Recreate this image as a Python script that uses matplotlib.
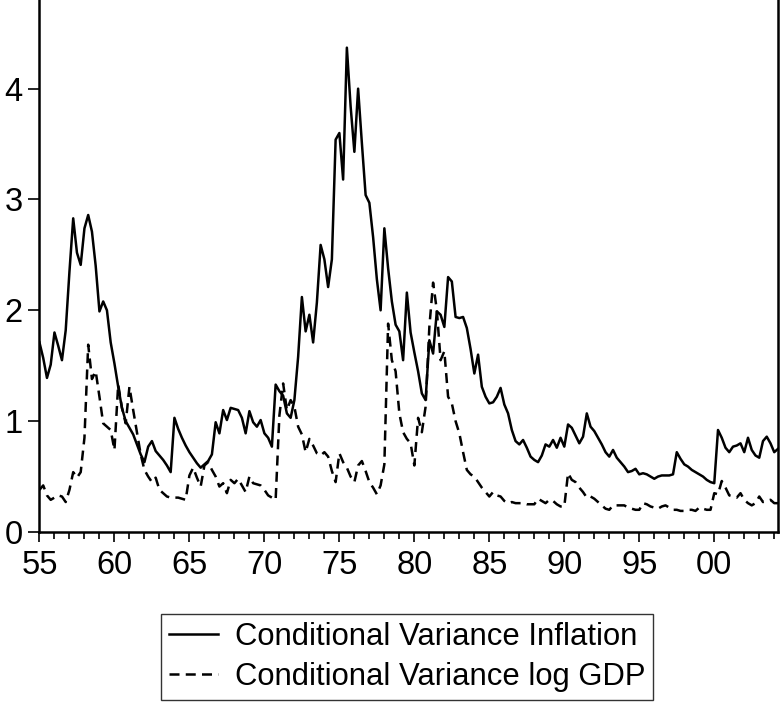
import matplotlib
matplotlib.use("Agg")
import matplotlib.pyplot as plt
import numpy as np

plt.rcParams['font.family'] = ['Liberation Sans', 'DejaVu Sans']

# quarterly, 1955Q1 .. 2004Q2
start_year = 1955
infl_var = [
    1.71, 1.57, 1.39, 1.51,  1.80, 1.68, 1.55, 1.82,   # 55-56
    2.35, 2.83, 2.52, 2.41,  2.74, 2.86, 2.71, 2.40,   # 57-58
    1.99, 2.08, 2.00, 1.71,  1.52, 1.31, 1.12, 1.00,   # 59-60
    0.94, 0.88, 0.79, 0.70,  0.63, 0.77, 0.82, 0.73,   # 61-62
    0.69, 0.65, 0.60, 0.54,  1.03, 0.93, 0.85, 0.78,   # 63-64
    0.72, 0.67, 0.62, 0.58,  0.61, 0.64, 0.70, 0.99,   # 65-66
    0.89, 1.10, 1.01, 1.12,  1.11, 1.10, 1.03, 0.89,   # 67-68
    1.09, 0.99, 0.95, 1.01,  0.89, 0.85, 0.77, 1.33,   # 69-70
    1.27, 1.23, 1.07, 1.03,  1.19, 1.58, 2.12, 1.81,   # 71-72
    1.96, 1.71, 2.07, 2.59,  2.46, 2.21, 2.46, 3.54,   # 73-74
    3.60, 3.18, 4.37, 3.84,  3.43, 4.00, 3.51, 3.04,   # 75-76
    2.97, 2.66, 2.28, 2.00,  2.74, 2.38, 2.08, 1.87,   # 77-78
    1.81, 1.55, 2.16, 1.80,  1.62, 1.45, 1.25, 1.19,   # 79-80
    1.73, 1.61, 1.99, 1.96,  1.85, 2.30, 2.26, 1.94,   # 81-82
    1.93, 1.94, 1.84, 1.65,  1.43, 1.60, 1.31, 1.22,   # 83-84
    1.16, 1.17, 1.22, 1.30,  1.15, 1.07, 0.92, 0.82,   # 85-86
    0.79, 0.83, 0.76, 0.68,  0.65, 0.63, 0.69, 0.79,   # 87-88
    0.77, 0.83, 0.76, 0.85,  0.77, 0.97, 0.94, 0.87,   # 89-90
    0.80, 0.86, 1.07, 0.95,  0.91, 0.85, 0.79, 0.72,   # 91-92
    0.68, 0.74, 0.67, 0.63,  0.59, 0.54, 0.55, 0.57,   # 93-94
    0.52, 0.53, 0.52, 0.50,  0.48, 0.50, 0.51, 0.51,   # 95-96
    0.51, 0.52, 0.72, 0.66,  0.61, 0.59, 0.56, 0.54,   # 97-98
    0.52, 0.50, 0.47, 0.45,  0.44, 0.92, 0.85, 0.76,   # 99-00
    0.72, 0.77, 0.78, 0.80,  0.72, 0.85, 0.74, 0.69,   # 01-02
    0.67, 0.82, 0.86, 0.80,  0.72, 0.75,               # 03-04
]
gdp_var = [
    0.38, 0.42, 0.33, 0.29,  0.31, 0.33, 0.32, 0.27,   # 55-56
    0.38, 0.54, 0.49, 0.54,  0.85, 1.69, 1.38, 1.45,   # 57-58
    1.22, 0.98, 0.95, 0.92,  0.74, 1.33, 1.12, 0.98,   # 59-60
    1.31, 1.10, 0.90, 0.70,  0.56, 0.50, 0.45, 0.49,   # 61-62
    0.38, 0.35, 0.32, 0.31,  0.31, 0.31, 0.30, 0.29,   # 63-64
    0.51, 0.58, 0.49, 0.41,  0.60, 0.63, 0.56, 0.50,   # 65-66
    0.41, 0.44, 0.35, 0.47,  0.44, 0.48, 0.42, 0.36,   # 67-68
    0.50, 0.44, 0.43, 0.42,  0.38, 0.33, 0.31, 0.29,   # 69-70
    1.05, 1.34, 1.10, 1.19,  1.13, 0.95, 0.88, 0.72,   # 71-72
    0.84, 0.78, 0.71, 0.69,  0.72, 0.68, 0.55, 0.45,   # 73-74
    0.71, 0.63, 0.58, 0.50,  0.45, 0.60, 0.64, 0.55,   # 75-76
    0.45, 0.40, 0.34, 0.42,  0.61, 1.88, 1.55, 1.45,   # 77-78
    1.07, 0.90, 0.84, 0.80,  0.60, 1.03, 0.90, 1.13,   # 79-80
    1.85, 2.25, 2.00, 1.55,  1.63, 1.22, 1.16, 1.00,   # 81-82
    0.89, 0.72, 0.56, 0.52,  0.50, 0.45, 0.40, 0.36,   # 83-84
    0.32, 0.36, 0.33, 0.32,  0.28, 0.26, 0.27, 0.26,   # 85-86
    0.26, 0.26, 0.25, 0.25,  0.25, 0.30, 0.28, 0.26,   # 87-88
    0.29, 0.28, 0.25, 0.23,  0.23, 0.53, 0.47, 0.45,   # 89-90
    0.40, 0.36, 0.31, 0.32,  0.30, 0.27, 0.24, 0.21,   # 91-92
    0.20, 0.24, 0.24, 0.24,  0.24, 0.22, 0.21, 0.20,   # 93-94
    0.20, 0.26, 0.25, 0.23,  0.22, 0.21, 0.23, 0.24,   # 95-96
    0.22, 0.20, 0.20, 0.19,  0.19, 0.20, 0.20, 0.19,   # 97-98
    0.22, 0.21, 0.20, 0.20,  0.35, 0.34, 0.46, 0.40,   # 99-00
    0.33, 0.32, 0.31, 0.35,  0.29, 0.26, 0.24, 0.26,   # 01-02
    0.32, 0.27, 0.28, 0.29,  0.26, 0.26,               # 03-04
]
xtick_years = [1955, 1960, 1965, 1970, 1975, 1980, 1985, 1990, 1995, 2000]
xtick_labels = ['55', '60', '65', '70', '75', '80', '85', '90', '95', '00']
yticks = [0, 1, 2, 3, 4]

t = start_year + 0.25 * np.arange(len(infl_var))

fig = plt.figure(figsize=(7.83, 7.11), dpi=100)
ax = fig.add_axes([0.0504, 0.2518, 0.9432, 0.7482])

ax.plot(t, infl_var, color='black', lw=1.8, label='Conditional Variance Inflation')
ax.plot(t, gdp_var, color='black', lw=1.8, linestyle=(0, (4, 2.5)),
        label='Conditional Variance log GDP')

ax.set_xlim(t[0], t[-1])
ax.set_ylim(0, 4.8)
ax.set_xticks(xtick_years)
ax.set_xticklabels(xtick_labels)
ax.set_xticks(np.arange(1955, 2005), minor=True)
ax.set_yticks(yticks)

ax.tick_params(axis='both', which='major', labelsize=23.5, direction='out',
               width=1.2, color='black')
ax.tick_params(axis='x', which='major', length=7, pad=6)
ax.tick_params(axis='x', which='minor', length=5, width=1.2)
ax.tick_params(axis='y', which='major', length=8, pad=4)

ax.spines['top'].set_visible(False)
for s in ['left', 'bottom', 'right']:
    ax.spines[s].set_linewidth(1.8)

leg = fig.legend(loc='center', bbox_to_anchor=(0.52, 0.076), fontsize=22.3,
                 frameon=True, fancybox=False, edgecolor='black',
                 handlelength=1.6, handletextpad=0.55, borderpad=0.25,
                 labelspacing=0.34)
leg.get_frame().set_linewidth(1.0)

fig.savefig('out.png', dpi=100)
